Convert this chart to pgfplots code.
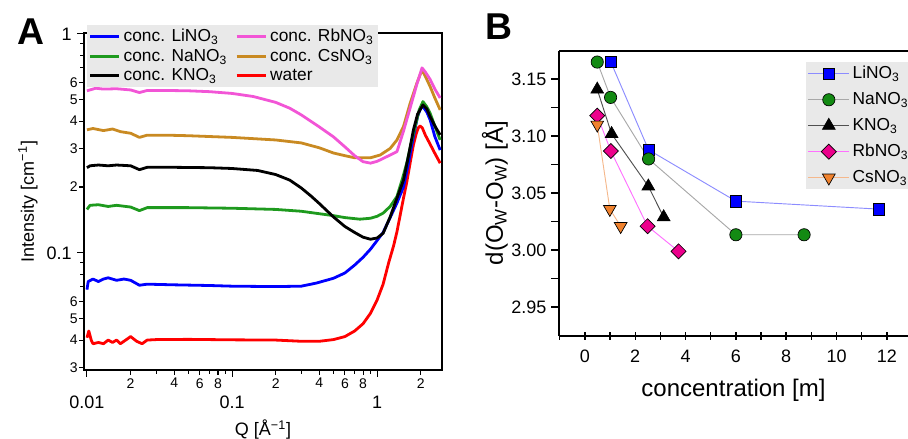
\documentclass[border=0pt]{standalone}
\usepackage{fontspec}
\setmainfont{Liberation Sans}
\usepackage{pgfplots}
\pgfplotsset{compat=1.18}
\definecolor{cLi}{HTML}{0000FF}
\definecolor{cNa}{HTML}{1E9A1E}
\definecolor{cK}{HTML}{000000}
\definecolor{cRb}{HTML}{F255D6}
\definecolor{cCs}{HTML}{C98A22}
\definecolor{cW}{HTML}{FF0000}
\definecolor{legbg}{HTML}{E9E9E9}
\definecolor{mNa}{HTML}{138A13}
\definecolor{mCs}{HTML}{F0822E}
\definecolor{lLi}{HTML}{8C8CFF}
\definecolor{lNa}{HTML}{A8A8A8}
\definecolor{lK}{HTML}{505050}
\definecolor{lRb}{HTML}{FF70FF}
\definecolor{lCs}{HTML}{F5B88C}
\begin{document}
\begin{tikzpicture}
\path[use as bounding box] (0pt,0pt) rectangle (681pt,329.25pt);
\node[font=\fontsize{28}{30}\selectfont\bfseries] at (23.6pt,305.6pt) {A};
\node[font=\fontsize{28}{30}\selectfont\bfseries] at (374.25pt,309.4pt) {B};
% ---------------- Panel A
\begin{axis}[at={(63pt,51.75pt)}, anchor=south west, scale only axis,
  width=268.5pt, height=252.75pt,
  xmode=log, ymode=log,
  xmin=0.00954, xmax=2.8, ymin=0.0292, ymax=1.01,
  axis line style={line width=0.9pt},
  tick align=outside, tick pos=left,
  tick style={black, line width=0.8pt},
  major tick length=3.5pt, minor tick length=3pt,
  xtick={0.02,0.04,0.06,0.08,0.2,0.4,0.6,0.8,2},
  xticklabels={2,4,6,8,2,4,6,8,2},
  minor xtick={0.03,0.05,0.07,0.09,0.3,0.5,0.7,0.9},
  xticklabel style={font=\fontsize{10.5}{11}\selectfont, inner sep=1pt, yshift=-1.5pt},
  extra x ticks={0.01,0.1,1},
  extra x tick labels={0.01,0.1,1},
  extra x tick style={major tick length=5pt, xticklabel style={font=\fontsize{13.5}{14}\selectfont, yshift=-12pt}},
  ytick={0.03,0.04,0.05,0.06,0.2,0.3,0.4,0.5,0.6},
  yticklabels={3,4,5,6,2,3,4,5,6},
  minor ytick={0.07,0.08,0.09,0.7,0.8,0.9},
  yticklabel style={font=\fontsize{10.5}{11}\selectfont, inner sep=1pt},
  extra y ticks={0.1,1},
  extra y tick labels={0.1,1},
  extra y tick style={major tick length=5pt, yticklabel style={font=\fontsize{13.5}{14}\selectfont, xshift=-3pt}},
  xlabel={Q [Å\textsuperscript{−1}]},
  ylabel={Intensity [cm\textsuperscript{−1}]},
  label style={font=\fontsize{13.5}{15}\selectfont},
  xlabel style={at={(axis description cs:0.5,0)}, anchor=center, yshift=-45pt},
  ylabel style={at={(axis description cs:0,0.5)}, anchor=center, yshift=42pt},
  legend columns=2,
  legend cell align=left,
  legend style={at={(0.0084,1.0237)}, anchor=north west, fill=legbg, draw=none,
    font=\fontsize{13}{15}\selectfont, inner xsep=1pt, inner ysep=0.8pt,
    row sep=0.2pt,
    /tikz/every even column/.append style={column sep=4pt}},
  legend image code/.code={\draw[#1] (0pt,0pt) -- (22pt,0pt);},
  every axis plot/.append style={line width=2.1pt, line join=round},
]
\addlegendimage{cLi, line width=2.3pt}\addlegendentry{conc. LiNO\textsubscript{3}}
\addlegendimage{cRb, line width=2.3pt}\addlegendentry{conc. RbNO\textsubscript{3}}
\addlegendimage{cNa, line width=2.3pt}\addlegendentry{conc. NaNO\textsubscript{3}}
\addlegendimage{cCs, line width=2.3pt}\addlegendentry{conc. CsNO\textsubscript{3}}
\addlegendimage{cK, line width=2.3pt}\addlegendentry{conc. KNO\textsubscript{3}}
\addlegendimage{cW, line width=2.3pt}\addlegendentry{water}
% water
\addplot[cW, forget plot] coordinates {
(0.0100,0.0410)(0.0103,0.0440)(0.0107,0.0400)(0.0110,0.0385)(0.0120,0.0390)(0.0130,0.0385)
(0.0140,0.0400)(0.0150,0.0390)(0.0160,0.0400)(0.0170,0.0385)(0.0190,0.0405)(0.0200,0.0415)
(0.0220,0.0395)(0.0240,0.0385)(0.0260,0.0400)(0.030,0.0402)(0.05,0.0403)(0.1,0.0401)
(0.2,0.0400)(0.3,0.0395)(0.4,0.0395)(0.5,0.0402)(0.6,0.0415)(0.7,0.0440)(0.8,0.0475)
(0.9,0.0530)(1.0,0.0610)(1.10,0.0720)(1.20,0.0900)(1.30,0.1080)(1.37,0.1250)(1.44,0.1480)
(1.52,0.1780)(1.60,0.2100)(1.69,0.2580)(1.78,0.3120)(1.86,0.3500)(1.92,0.3720)(1.98,0.3800)
(2.05,0.3720)(2.15,0.3450)(2.30,0.3170)(2.50,0.2850)(2.72,0.2570)};
% LiNO3
\addplot[cLi, forget plot] coordinates {
(0.0100,0.0680)(0.0102,0.0740)(0.0110,0.0760)(0.0120,0.0740)(0.0130,0.0760)(0.0140,0.0770)
(0.0160,0.0750)(0.0180,0.0760)(0.0200,0.0750)(0.0230,0.0712)(0.0260,0.0720)(0.04,0.0715)
(0.07,0.0710)(0.1,0.0705)(0.2,0.0702)(0.3,0.0705)(0.38,0.0728)(0.5,0.0766)(0.6,0.0810)
(0.7,0.0880)(0.8,0.0955)(0.9,0.1040)(1.0,0.1140)(1.1,0.1240)(1.23,0.1450)(1.37,0.1690)
(1.52,0.2000)(1.65,0.2600)(1.78,0.3400)(1.90,0.4200)(2.00,0.4600)(2.07,0.4660)(2.20,0.4400)
(2.32,0.4050)(2.50,0.3400)(2.72,0.2950)};
% NaNO3
\addplot[cNa, forget plot] coordinates {
(0.0100,0.1580)(0.0105,0.1650)(0.0120,0.1660)(0.0140,0.1630)(0.0160,0.1650)(0.0200,0.1620)
(0.0230,0.1560)(0.0260,0.1610)(0.05,0.1610)(0.1,0.1600)(0.2,0.1580)(0.3,0.1550)(0.4,0.1510)
(0.5,0.1480)(0.6,0.1450)(0.76,0.1426)(0.9,0.1440)(1.0,0.1470)(1.1,0.1520)(1.23,0.1630)
(1.37,0.1810)(1.50,0.2200)(1.60,0.2570)(1.72,0.3200)(1.83,0.3780)(1.95,0.4500)(2.07,0.4910)
(2.20,0.4650)(2.32,0.4340)(2.50,0.3800)(2.72,0.3280)};
% CsNO3
\addplot[cCs, forget plot] coordinates {
(0.0100,0.3650)(0.0110,0.3700)(0.0130,0.3620)(0.0150,0.3680)(0.0170,0.3580)(0.0200,0.3520)
(0.0230,0.3370)(0.0260,0.3450)(0.035,0.3450)(0.05,0.3430)(0.1,0.3370)(0.2,0.3280)(0.3,0.3180)
(0.4,0.3020)(0.5,0.2860)(0.6,0.2780)(0.7,0.2720)(0.9,0.2720)(1.05,0.2800)(1.23,0.3000)
(1.37,0.3280)(1.52,0.3780)(1.69,0.4830)(1.88,0.5960)(2.04,0.6860)(2.15,0.6400)(2.32,0.5750)
(2.50,0.5100)(2.72,0.4500)};
% RbNO3
\addplot[cRb, forget plot] coordinates {
(0.0100,0.5500)(0.0115,0.5650)(0.0130,0.5600)(0.0160,0.5620)(0.0200,0.5550)(0.0230,0.5400)
(0.0260,0.5520)(0.035,0.5520)(0.05,0.5500)(0.07,0.5450)(0.1,0.5350)(0.14,0.5180)(0.2,0.4870)
(0.25,0.4580)(0.3,0.4270)(0.4,0.3760)(0.5,0.3390)(0.6,0.3050)(0.7,0.2780)(0.8,0.2610)
(0.9,0.2570)(1.0,0.2620)(1.1,0.2700)(1.23,0.2800)(1.37,0.2900)(1.52,0.3600)(1.69,0.4600)
(1.88,0.5900)(2.04,0.7000)(2.15,0.6700)(2.32,0.6200)(2.50,0.5600)(2.72,0.5100)};
% KNO3
\addplot[cK, forget plot] coordinates {
(0.0100,0.2450)(0.0105,0.2500)(0.0120,0.2520)(0.0140,0.2500)(0.0160,0.2520)(0.0200,0.2500)
(0.0230,0.2400)(0.0260,0.2460)(0.04,0.2460)(0.07,0.2450)(0.1,0.2430)(0.15,0.2380)(0.2,0.2280)
(0.25,0.2150)(0.3,0.1980)(0.35,0.1820)(0.4,0.1680)(0.5,0.1460)(0.6,0.1320)(0.7,0.1240)
(0.8,0.1180)(0.9,0.1155)(1.0,0.1170)(1.1,0.1230)(1.23,0.1460)(1.37,0.1780)(1.52,0.2150)
(1.65,0.2800)(1.78,0.3650)(1.90,0.4300)(2.07,0.4740)(2.20,0.4550)(2.32,0.4190)(2.50,0.3800)
(2.72,0.3460)};
\end{axis}
% ---------------- Panel B
\begin{axis}[at={(419.25pt,77.5pt)}, anchor=south west, scale only axis,
  width=261.75pt, height=213.75pt,
  xmin=-1.03, xmax=12.84, ymin=2.925, ymax=3.175,
  axis x line*=bottom, axis y line*=left,
  axis line style={line width=1.3pt},
  tick align=outside,
  tick style={black, line width=1.1pt},
  major tick length=6pt, minor tick length=6pt,
  xtick={0,2,...,12}, minor xtick={-1,1,3,5,7,9,11},
  x tick style={yshift=3pt},
  ytick={2.95,3.00,3.05,3.10,3.15}, minor ytick={2.975,3.025,3.075,3.125},
  ticklabel style={font=\fontsize{13.5}{14}\selectfont},
  xticklabel style={yshift=-1.5pt},
  /pgf/number format/assume math mode=true,
  yticklabel style={/pgf/number format/.cd, fixed, fixed zerofill, precision=2},
  xlabel={concentration [m]},
  ylabel={d(O\textsubscript{W}-O\textsubscript{W}) [Å]},
  label style={font=\fontsize{18}{20}\selectfont},
  xlabel style={at={(axis description cs:0.5,0)}, anchor=center, yshift=-41pt},
  ylabel style={at={(axis description cs:0,0.5)}, anchor=center, yshift=48pt},
  legend cell align=left,
  legend style={at={(0.708,0.962)}, anchor=north west, fill=legbg, draw=none,
    font=\fontsize{13}{15}\selectfont, inner xsep=1pt, inner ysep=1.5pt, row sep=4.8pt},
  legend image code/.code={\draw[mark repeat=2,mark phase=2,#1] plot coordinates {(0pt,0pt) (15.5pt,0pt) (31pt,0pt)};},
]
\draw[line width=1.5pt] (rel axis cs:0,1) -- (rel axis cs:1,1);
\addplot[lLi, line width=0.7pt, mark=square*, mark size=4.3pt, mark options={solid, fill=cLi, draw=black, line width=0.5pt}]
 coordinates {(1.03,3.165)(2.53,3.088)(6.0,3.043)(11.68,3.036)};
\addlegendentry{LiNO\textsubscript{3}}
\addplot[lNa, line width=0.7pt, mark=*, mark size=4.6pt, mark options={solid, fill=mNa, draw=black, line width=0.5pt}]
 coordinates {(0.49,3.165)(1.02,3.134)(2.53,3.080)(6.0,3.0135)(8.71,3.0135)};
\addlegendentry{NaNO\textsubscript{3}}
\addplot[lK, line width=0.7pt, mark=triangle*, mark size=5.5pt, mark options={solid, fill=black, draw=black, line width=0.5pt}]
 coordinates {(0.49,3.141)(1.06,3.102)(2.52,3.056)(3.13,3.029)};
\addlegendentry{KNO\textsubscript{3}}
\addplot[lRb, line width=0.7pt, mark=square*, mark size=4.0pt, mark options={solid, rotate=45, fill=magenta, draw=black, line width=0.5pt}]
 coordinates {(0.49,3.118)(1.03,3.087)(2.49,3.021)(3.72,2.999)};
\addlegendentry{RbNO\textsubscript{3}}
\addplot[lCs, line width=0.7pt, mark=triangle*, mark size=5.5pt, mark options={solid, rotate=180, fill=mCs, draw=black, line width=0.5pt}]
 coordinates {(0.49,3.110)(0.99,3.036)(1.42,3.021)};
\addlegendentry{CsNO\textsubscript{3}}
\end{axis}
\end{tikzpicture}
\end{document}
